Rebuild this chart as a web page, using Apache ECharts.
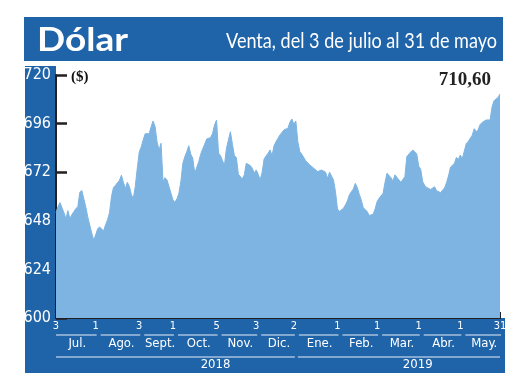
<!DOCTYPE html>
<html>
<head>
<meta charset="utf-8">
<script src="https://cdn.jsdelivr.net/npm/echarts@6/dist/echarts.min.js"></script>
<style>
html,body{margin:0;padding:0;background:#fff;}
#chart{width:520px;height:390px;}
</style>
</head>
<body>
<div id="chart"></div>
<script>
// ---- data ----
const titleText = 'Dólar';
const subtitleText = 'Venta, del 3 de julio al 31 de mayo';
const unitText = '($)';
const lastValueText = '710,60';
const yMin = 600, yMax = 720, yStep = 24;
const tickIndex = [0, 20, 42, 59, 81, 101, 120, 142, 162, 183, 204, 224];
const tickLabels = ['3', '1', '3', '1', '5', '3', '2', '1', '1', '1', '1', '31'];
const months = ['Jul.', 'Ago.', 'Sept.', 'Oct.', 'Nov.', 'Dic.', 'Ene.', 'Feb.', 'Mar.', 'Abr.', 'May.'];
const years = ['2018', '2019'];
const yearStartTick = [0, 6];      // index into tickIndex
const yearEndTick = [6, 11];
const yearLabelTick = [4, 9];
const venta = [
  652, 655, 657, 657, 652, 649, 653, 649, 651, 652.5, 654, 655, 662, 663, 659, 655, 650, 646, 642, 638.5,
  641, 644, 645, 645, 643, 646, 648.5, 652, 660, 664.5, 665.5, 666, 668, 670.5, 667, 664, 667, 665, 661, 659,
  665, 674, 682, 684.5, 688, 691,
  690.4, 691, 694.5, 697.3, 694.5, 686.8, 683, 686.3, 667.4, 669.3, 668.2, 664.9, 661.6, 658.3, 657.2, 658.8,
  661.6, 667.4, 676.4, 679.7, 682.2, 685.1, 680.9, 678.9, 671.5, 671, 677.2, 680.9, 683.5, 685.8, 688.4, 688.8,
  689.1, 691.2, 695.4, 697.8, 681.4, 680.2, 677.6, 675.6, 683.8, 688, 692, 685.8,
  680.2, 679.2, 671, 671, 668.7, 670.7, 676.4, 676.9, 675.3, 674, 671.5, 673.1, 671, 668.2, 672, 678.6,
  678.6, 681.4, 683, 680.2, 685.1, 687.1, 688.8, 690.4, 690.9, 692.9, 693.7, 693.7, 696.7, 698.3, 695.7, 697.3,
  687.1, 682.2, 680.9, 680.2, 677.6, 676.7, 675.6, 674.8, 674, 674, 672.3, 672, 673.1,
  673, 672, 669, 672, 671.5, 668.2, 662.4, 653.9, 652.6, 652.9, 654.2, 655.8, 657.8, 660.8, 662.4, 663.7,
  666.5, 664.4, 661.1, 658.3, 654.5, 654.2, 652.6, 650.6, 649.9, 651.2, 653.9, 657.5, 659.1, 658.2, 661.6, 667,
  671.5, 671.8, 669.3, 667.7, 670.7, 670.3, 668.2, 667, 667.7, 669.8, 679.7, 680.5,
  682, 683, 683.8, 681, 675, 673.4, 667.3, 665.5, 664.5, 663.8, 663.5, 663.2, 664.8, 662.9, 662.5, 661.9,
  662.4, 664.2, 666.8, 670.1, 674.4, 675.4, 676.4, 679.3, 678.3, 680.5, 678.7, 679, 686.2, 687.2, 687.9, 690.3,
  693.5, 692, 693.1, 695.6, 696.6, 697.4, 697.8, 696.9, 697.8, 704.3, 707.3, 707.6, 708.9, 710.6
];
const days = venta.map((_, i) => i);

// ---- style ----
const BLUE = '#1f63a8';
const FILL = '#7db4e1';
const DARK = '#231f20';
const NARROW = "'Liberation Sans Narrow', 'DejaVu Sans Condensed', 'Liberation Sans', sans-serif";

const chart = echarts.init(document.getElementById('chart'), null, {renderer: 'canvas'});

const measureCtx = document.createElement('canvas').getContext('2d');
function textWidth(t, font) { measureCtx.font = font; return measureCtx.measureText(t).width; }

const baseOption = {
  animation: false,
  grid: {left: 56, right: 20, top: 75, bottom: 72, containLabel: false},
  xAxis: {
    type: 'category',
    data: days,
    boundaryGap: false,
    axisLine: {show: true, lineStyle: {color: DARK, width: 2}},
    axisTick: {show: true, inside: true, length: 6, interval: (i) => i === days.length - 1,
               lineStyle: {color: DARK, width: 2}},
    axisLabel: {
      show: true, color: '#ffffff', fontSize: 11, fontFamily: NARROW, margin: 3,
      interval: (i) => tickIndex.indexOf(i) >= 0,
      formatter: (v, i) => { const k = tickIndex.indexOf(Number(v)); return k >= 0 ? tickLabels[k] : ''; }
    },
    splitLine: {show: false}
  },
  yAxis: {
    type: 'value', min: yMin, max: yMax, interval: yStep,
    axisLine: {show: true, lineStyle: {color: DARK, width: 2}},
    axisTick: {show: true, inside: true, length: 11, lineStyle: {color: DARK, width: 2.5}},
    axisLabel: {color: '#ffffff', fontSize: 16, fontFamily: NARROW, margin: 5},
    splitLine: {show: false}
  },
  series: [{
    type: 'line', data: venta, showSymbol: false, symbol: 'none',
    lineStyle: {width: 1, color: FILL},
    areaStyle: {color: FILL, opacity: 1},
    z: 1
  }]
};
chart.setOption(baseOption);

function px(idx) { return chart.convertToPixel({xAxisIndex: 0}, idx); }
function py(val) { return chart.convertToPixel({yAxisIndex: 0}, val); }

const plotLeft = px(0), plotRight = px(days.length - 1), plotTop = py(yMax), plotBottom = py(yMin);

const g = [];
// backgrounds
g.push({type: 'rect', z: -100, shape: {x: 24, y: 17, width: 479, height: 44}, style: {fill: BLUE}});
g.push({type: 'rect', z: -100, shape: {x: 25, y: 66, width: plotLeft - 25, height: plotBottom - 66}, style: {fill: BLUE}});
g.push({type: 'rect', z: -100, shape: {x: 25, y: plotBottom, width: 505 - 25, height: 373 - plotBottom}, style: {fill: BLUE}});

// header texts
const titleFont = 'bold 33px Lato';
const tw = textWidth(titleText, titleFont);
g.push({type: 'text', z: 100, x: 37, y: 40, scaleX: 91 / tw,
  style: {text: titleText, font: titleFont, fill: '#ffffff', align: 'left', verticalAlign: 'middle'}});
const subFont = '21px Lato';
const sw = textWidth(subtitleText, subFont);
g.push({type: 'text', z: 100, x: 497, y: 41, scaleX: 271 / sw,
  style: {text: subtitleText, font: subFont, fill: '#ffffff', align: 'right', verticalAlign: 'middle'}});

// unit and last value
g.push({type: 'text', z: 100, x: 71, y: 77,
  style: {text: unitText, font: 'bold 15px "Liberation Serif"', fill: '#111', align: 'left', verticalAlign: 'middle'}});
g.push({type: 'text', z: 100, x: 491, y: 80,
  style: {text: lastValueText, font: 'bold 19px "Liberation Serif"', fill: '#222', align: 'right', verticalAlign: 'middle'}});

// month separator lines and month labels
const monthFont = '13px ' + NARROW;
for (let m = 0; m < months.length; m++) {
  const a = px(tickIndex[m]) + (m === 0 ? 0 : 5);
  const b = px(tickIndex[m + 1]) + 1;
  g.push({type: 'line', z: 100, shape: {x1: a, y1: 335, x2: b, y2: 335}, style: {stroke: '#e8f0fa', lineWidth: 1}});
  g.push({type: 'text', z: 100, x: (a + b) / 2 + 1, y: 344,
    style: {text: months[m], font: monthFont, fill: '#ffffff', align: 'center', verticalAlign: 'middle'}});
}
// year lines and labels
for (let k = 0; k < years.length; k++) {
  const a = px(tickIndex[yearStartTick[k]]) + (k === 0 ? 0 : 4);
  const b = px(tickIndex[yearEndTick[k]]) + (k === 0 ? 1 : 0);
  g.push({type: 'line', z: 100, shape: {x1: a, y1: 357, x2: b, y2: 357}, style: {stroke: '#e8f0fa', lineWidth: 1}});
  g.push({type: 'text', z: 100, x: px(tickIndex[yearLabelTick[k]]) - 1, y: 365,
    style: {text: years[k], font: monthFont, fill: '#ffffff', align: 'center', verticalAlign: 'middle'}});
}

chart.setOption({graphic: g});
</script>
</body>
</html>
